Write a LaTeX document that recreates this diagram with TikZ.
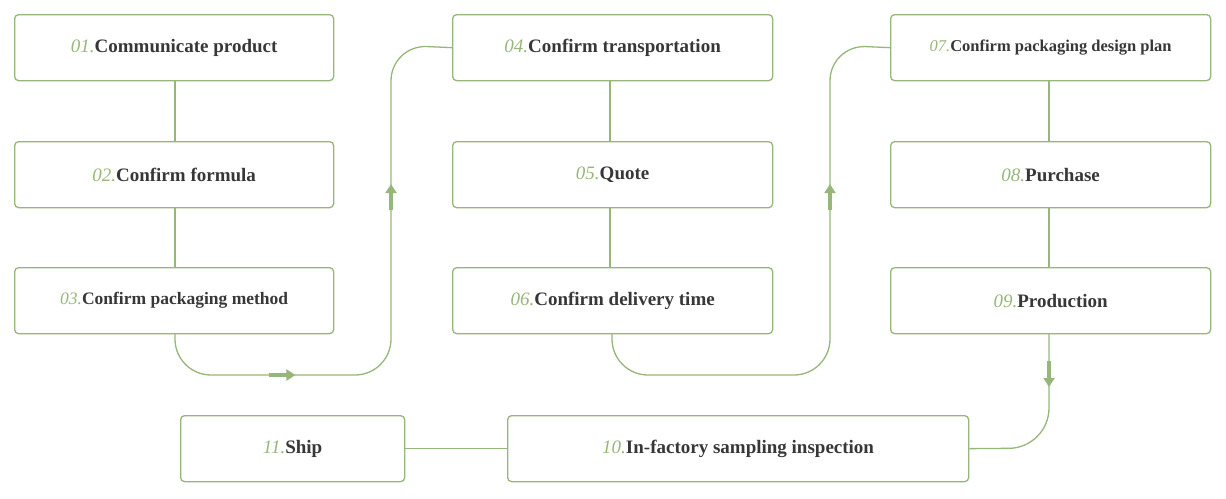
\documentclass[tikz,border=0pt]{standalone}
\usepackage{fontspec}
\setmainfont{Liberation Serif}
\usetikzlibrary{arrows.meta,decorations.markings}
\definecolor{gr}{RGB}{150,182,122}
\definecolor{tx}{RGB}{55,55,55}
\begin{document}
\begin{tikzpicture}[x=1pt,y=-1pt,
  box/.style={draw=gr,line width=1.3pt,rounded corners=4pt,minimum height=66pt,font=\fontsize{19}{22}\selectfont\bfseries,text=tx,anchor=north west,inner sep=0pt},
  ln/.style={draw=gr,line width=1.3pt},
  am/.style={postaction={decorate,decoration={markings,mark=at position #1 with {\draw[gr,line width=3.5pt,-{Triangle[length=9pt,width=11pt]}] (-16pt,0)--(10pt,0);}}}}]
\useasboundingbox (0,0) rectangle (1226,498);
\newcommand{\nm}[1]{\textcolor{gr}{\mdseries\itshape #1}}
\node[box,minimum width=319pt] (b1) at (14,14) {\nm{01.}Communicate product};
\node[box,minimum width=319pt] (b2) at (14,141) {\nm{02.}Confirm formula};
\node[box,minimum width=319pt] (b3) at (14,267) {\fontsize{17.5}{20}\selectfont\nm{03.}Confirm packaging method};
\node[box,minimum width=320pt] (b4) at (452,14) {\nm{04.}Confirm transportation};
\node[box,minimum width=320pt] (b5) at (452,141) {\nm{05.}Quote};
\node[box,minimum width=320pt] (b6) at (452,267) {\nm{06.}Confirm delivery time};
\node[box,minimum width=320pt] (b7) at (890,14) {\fontsize{16.5}{20}\selectfont\nm{07.}Confirm packaging design plan};
\node[box,minimum width=320pt] (b8) at (890,141) {\nm{08.}Purchase};
\node[box,minimum width=320pt] (b9) at (890,267) {\nm{09.}Production};
\node[box,minimum width=461pt] (b10) at (507,415) {\nm{10.}In-factory sampling inspection};
\node[box,minimum width=224pt] (b11) at (180,415) {\nm{11.}Ship};
\draw[ln] (175,80) -- (175,141);
\draw[ln] (175,207) -- (175,267);
\draw[ln] (610,80) -- (610,141);
\draw[ln] (610,207) -- (610,267);
\draw[ln] (1049,80) -- (1049,141);
\draw[ln] (1049,207) -- (1049,267);
\draw[ln] (b11.east) -- (b10.west);
\draw[ln,rounded corners=36pt,am=137pt,am=408pt] (175,333) -- (175,375) -- (391,375) -- (391,45) -- (b4.west);
\draw[ln,rounded corners=36pt,am=410pt] (612,333) -- (612,375) -- (830,375) -- (830,45) -- (b7.west);
\draw[ln,rounded corners=40pt,am=44pt] (1049,333) -- (1049,448) -- (b10.east);
\end{tikzpicture}
\end{document}
